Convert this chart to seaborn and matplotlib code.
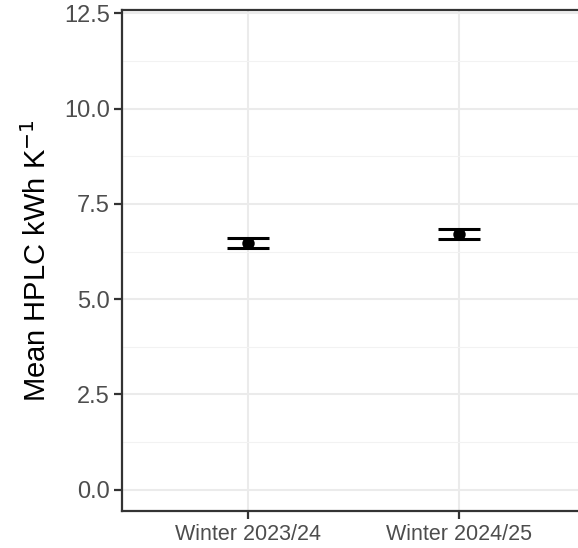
import matplotlib
matplotlib.use("Agg")
import matplotlib.pyplot as plt
from matplotlib.ticker import MultipleLocator, FormatStrFormatter
import seaborn as sns
import pandas as pd

# Seasonal mean heat-pump heat loss coefficient with confidence bounds
seasons = ["Winter 2023/24", "Winter 2024/25"]
mean_hplc = [6.47, 6.70]
ci_lower = [6.34, 6.58]
ci_upper = [6.61, 6.83]

df = pd.DataFrame({"season": seasons, "hplc": mean_hplc})

sns.set_theme(style="white")
plt.rcParams["font.family"] = ["Liberation Sans", "DejaVu Sans"]

fig = plt.figure(figsize=(5.78, 5.48), dpi=100)
ax = fig.add_axes([0.2106, 0.0681, 0.8026, 0.9137])

# error bars (caps only visible around the point)
pos = range(len(seasons))
yerr = [[m - lo for m, lo in zip(mean_hplc, ci_lower)],
        [hi - m for m, hi in zip(mean_hplc, ci_upper)]]
ax.errorbar(list(pos), mean_hplc, yerr=yerr, fmt="none", ecolor="black",
            elinewidth=2.2, capsize=15.4, capthick=2.2, zorder=3)

sns.scatterplot(data=df, x="season", y="hplc", color="black", s=80,
                edgecolor="black", linewidth=0, ax=ax, zorder=4)

ax.set_xlim(-0.6, 1.6)
ax.set_ylim(-0.55, 12.59)
ax.yaxis.set_major_locator(MultipleLocator(2.5))
ax.yaxis.set_minor_locator(MultipleLocator(1.25))
ax.yaxis.set_major_formatter(FormatStrFormatter("%.1f"))

ax.grid(True, which="major", color="#EBEBEB", linewidth=1.5, zorder=0)
ax.grid(True, which="minor", axis="y", color="#F2F2F2", linewidth=0.8, zorder=0)
ax.set_axisbelow(True)

for side in ["left", "bottom", "top", "right"]:
    ax.spines[side].set_visible(True)
    ax.spines[side].set_color("#333333")
    ax.spines[side].set_linewidth(1.6)

ax.tick_params(axis="both", which="major", length=5.5, width=1.6,
               color="#333333", direction="out", left=True, bottom=True)
ax.tick_params(axis="y", which="minor", length=0)
ax.tick_params(axis="y", labelsize=17, labelcolor="#4D4D4D", pad=3)
ax.tick_params(axis="x", labelsize=15.5, labelcolor="#4D4D4D", pad=4)

ax.set_xlabel("")
ax.set_ylabel("Mean HPLC kWh K$^{-1}$", fontsize=21, color="black", labelpad=9)

fig.savefig("out.png", dpi=100)
